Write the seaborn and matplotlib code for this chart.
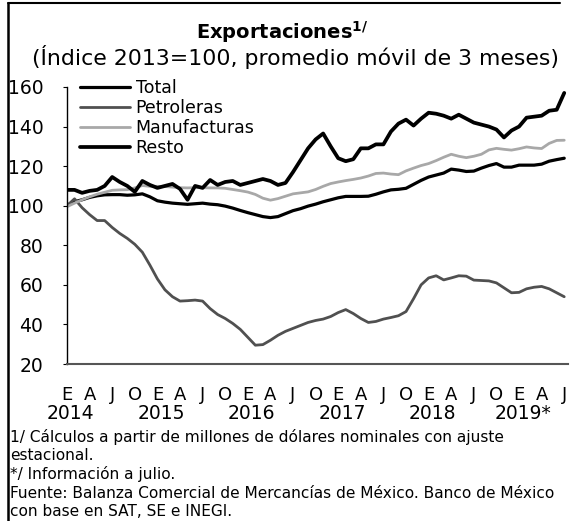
import numpy as np
import pandas as pd
import seaborn as sns
import matplotlib.pyplot as plt
from matplotlib.lines import Line2D
from matplotlib.transforms import blended_transform_factory

# datos (indice 2013=100, promedio movil 3 meses), ene-2014 a jul-2019
total = [100.2, 102, 103, 104.2, 105, 105.5, 105.6, 105.6, 105.3, 105.5, 106, 104.5,
         102.5, 101.8, 101.3, 101, 100.7, 101, 101.3, 100.8, 100.5, 99.8, 98.8, 97.6,
         96.5, 95.5, 94.5, 94, 94.5, 96, 97.5, 98.5, 99.8, 100.8, 102, 103,
         104, 104.7, 104.7, 104.7, 104.8, 105.8, 107, 108, 108.3, 108.8, 110.8, 112.8,
         114.5, 115.5, 116.5, 118.5, 118, 117.3, 117.5, 119, 120.3, 121.3, 119.5, 119.5,
         120.5, 120.5, 120.5, 121, 122.5, 123.3, 124]
petroleras = [100, 103.5, 99, 95.5, 92.5, 92.5, 89, 86, 83.5, 80.5, 76.5, 70,
              63, 57.5, 54, 51.8, 52, 52.3, 51.8, 48, 45, 43, 40.5, 37.5,
              33.5, 29.5, 29.8, 32, 34.5, 36.5, 38, 39.5, 41, 42, 42.7, 44,
              46, 47.5, 45.5, 43, 41, 41.5, 42.7, 43.5, 44.4, 46.5, 53, 60,
              63.5, 64.6, 62.5, 63.5, 64.6, 64.4, 62.4, 62.2, 62, 61, 58.5, 56,
              56.2, 58, 58.8, 59.2, 58, 56, 54]
manufacturas = [99.5, 101.3, 103, 104.5, 105.8, 106.8, 107.8, 108, 108.1, 109, 110.2, 109.8,
                109.8, 109.7, 109.4, 109.1, 109, 109.1, 109.1, 109, 109, 108.8, 108.2, 107.6,
                106.9, 105.7, 103.8, 102.8, 103.6, 104.8, 106, 106.5, 107, 108.2, 109.8, 111.2,
                112, 112.7, 113.3, 114, 115, 116.3, 116.5, 116, 115.7, 117.6, 119, 120.3,
                121.3, 122.8, 124.5, 126, 125, 124.3, 125, 126, 128.2, 129, 128.5, 128.1,
                128.8, 129.7, 129.2, 128.9, 131.5, 133, 133.1]
resto = [108, 108, 106.5, 107.5, 108, 110, 114.5, 112, 110, 107, 112.5, 110.5,
         109, 110, 111, 108.5, 103, 110, 109, 113, 110.5, 112, 112.5, 110.5,
         111.5, 112.5, 113.5, 112.5, 110.5, 111.5, 117, 123, 129, 133.5, 136.5, 130,
         124, 122.5, 123.5, 129, 129, 131, 131, 137.5, 141.5, 143.5, 140.5, 144,
         147, 146.5, 145.5, 144, 146, 144, 142, 141, 140, 138.5, 134.5, 138,
         140, 144.5, 145, 145.5, 148, 148.5, 157]

meses = ['E', 'A', 'J', 'O']
anios = ['2014', '2015', '2016', '2017', '2018', '2019*']

n = len(total)
df = pd.DataFrame({'mes': np.arange(n), 'Total': total, 'Petroleras': petroleras,
                   'Manufacturas': manufacturas, 'Resto': resto})

sns.set_style('white', {'text.color': 'black', 'xtick.color': 'black', 'ytick.color': 'black'})
plt.rcParams['font.family'] = ['DejaVu Sans']

fig = plt.figure(figsize=(5.79, 5.21), dpi=100)
ax = fig.add_axes([67/579, 157/521, 501/579, 277/521])

estilos = {'Total': ('black', 2.3),
           'Petroleras': ('#505050', 2.0),
           'Manufacturas': ('#a8a8a8', 2.0),
           'Resto': ('black', 2.7)}
for serie, (col, lw) in estilos.items():
    sns.lineplot(data=df, x='mes', y=serie, ax=ax, color=col, linewidth=lw, label=serie)

ax.set_xlim(0, 66.5)
ax.set_ylim(20, 160)
ax.set_yticks(range(20, 161, 20))
ax.set_xlabel('')
ax.set_ylabel('')

pos = np.arange(0, n, 3)
ax.set_xticks(pos)
ax.set_xticklabels([meses[i % 4] for i in range(len(pos))], fontsize=13)
ax.tick_params(axis='x', length=0, pad=16)
ax.tick_params(axis='y', length=3, width=0.8, color='black', labelsize=13.5, pad=14, left=True)

tr = blended_transform_factory(ax.transData, ax.transAxes)
for i, a in enumerate(anios):
    ax.text(12 * i + 0.5, -0.18, a, transform=tr, ha='center', va='center', fontsize=13.5)

for s in ['top', 'right']:
    ax.spines[s].set_visible(False)
ax.spines['left'].set_color('black')
ax.spines['left'].set_linewidth(1.0)
ax.spines['bottom'].set_color('#555555')
ax.spines['bottom'].set_linewidth(1.5)

ax.legend(loc='upper left', bbox_to_anchor=(0.026, 1.03), frameon=False, fontsize=12.5,
          handlelength=2.9, handletextpad=0.3, labelspacing=0.12, borderpad=0, borderaxespad=0)

fig.text(0.488, 1 - 32/521, r'Exportaciones$^{\mathregular{1/}}$', ha='center', va='center',
         fontsize=14, fontweight='bold')
fig.text(0.511, 1 - 57/521, '(Índice 2013=100, promedio móvil de 3 meses)', ha='center',
         va='center', fontsize=15.8)

notas = ['1/ Cálculos a partir de millones de dólares nominales con ajuste',
         'estacional.',
         '*/ Información a julio.',
         'Fuente: Balanza Comercial de Mercancías de México. Banco de México',
         'con base en SAT, SE e INEGI.']
for i, t in enumerate(notas):
    fig.text(10/579, 1 - (437 + 18.7 * i)/521, t, ha='left', va='center', fontsize=11.1)

# marco
fig.add_artist(Line2D([8/579, 8/579], [0, 1 - 3/521], color='black', lw=1.8))
fig.add_artist(Line2D([8/579, 560/579], [1 - 3/521, 1 - 3/521], color='black', lw=1.5))

fig.savefig('out.png', dpi=100)
